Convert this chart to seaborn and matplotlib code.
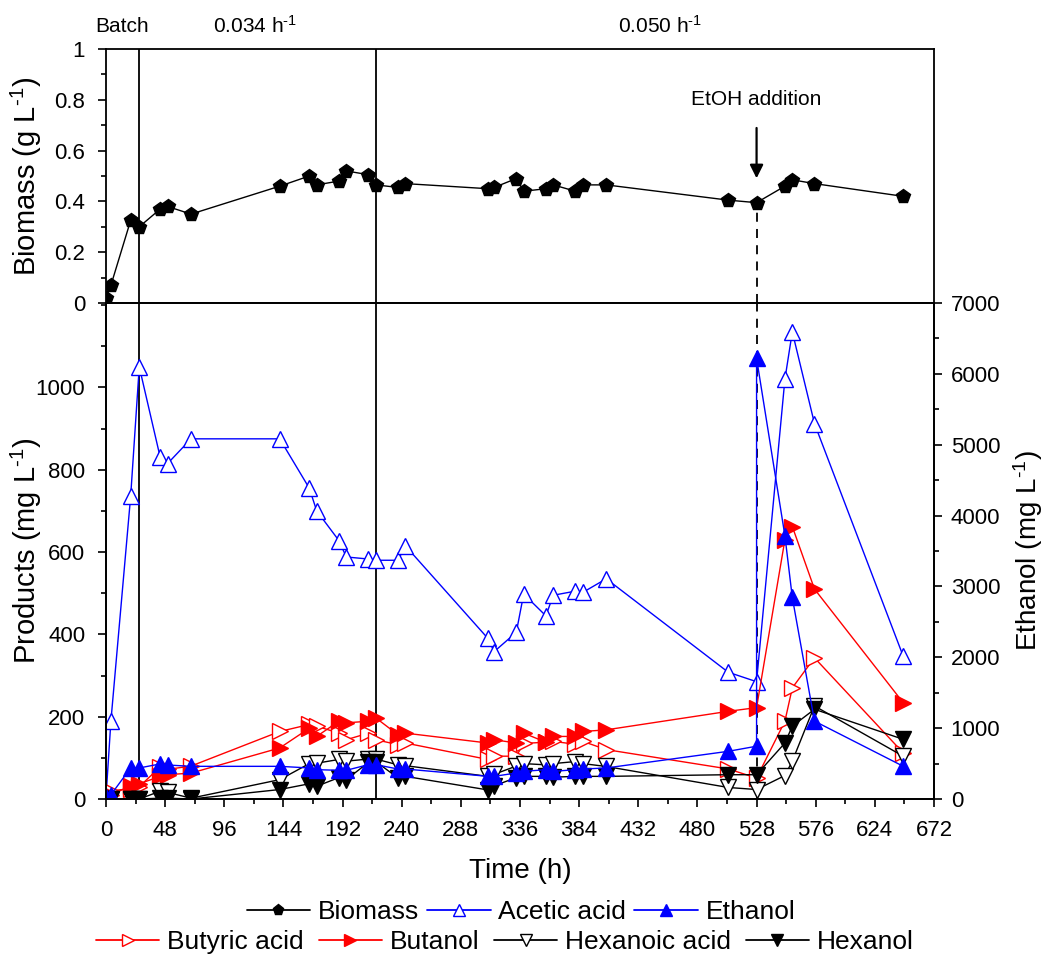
import matplotlib
matplotlib.use("Agg")
import matplotlib.pyplot as plt
import seaborn as sns
import matplotlib.transforms as mtransforms
from matplotlib.lines import Line2D
from matplotlib.ticker import MultipleLocator

# ---------------- data ----------------
time_h = [0, 4, 20, 27, 44, 50, 69, 141, 165, 171, 189, 195, 213, 219, 237, 243,
          310, 315, 333, 339, 357, 363, 381, 387, 406, 505, 528, 551, 557, 575, 647]
biomass = [0.02, 0.07, 0.325, 0.30, 0.37, 0.38, 0.35, 0.46, 0.50, 0.465, 0.48, 0.52,
           0.505, 0.465, 0.455, 0.47, 0.45, 0.455, 0.49, 0.44, 0.45, 0.465, 0.44, 0.465,
           0.465, 0.405, 0.395, 0.46, 0.485, 0.47, 0.42]
acetic = [5, 190, 735, 1050, 830, 815, 875, 875, 755, 700, 628, 588, 583, 580, 580, 615,
          390, 358, 405, 498, 445, 495, 505, 502, 535, 308, 285, 1020, 1135, 912, 347]
butyric = [15, 20, 25, 30, 78, 72, 80, 164, 181, 177, 160, 144, 160, 144, 132, 136,
           96, 104, 104, 135, 138, 140, 133, 140, 120, 73, 51, 189, 270, 343, 112]
butanol = [5, 10, 32, 37, 55, 59, 63, 124, 172, 152, 189, 185, 189, 197, 156, 160,
           136, 144, 136, 160, 138, 152, 152, 164, 168, 213, 222, 630, 662, 510, 234]
hexanoic = [0, 0, 0, 0, 19, 16, 2, 47, 86, 87, 96, 92, 97, 97, 83, 81,
            55, 60, 80, 86, 83, 86, 91, 86, 79, 28, 23, 57, 92, 226, 104]
hexanol = [0, 0, 0, 0, 2, 2, 0, 23, 37, 31, 52, 47, 89, 91, 51, 55,
           22, 32, 52, 55, 55, 53, 55, 55, 55, 59, 59, 136, 177, 218, 145]
# ethanol (right axis) - two samples at 528 h (before / after EtOH addition)
time_etoh = [0, 4, 20, 27, 44, 50, 69, 141, 165, 171, 189, 195, 213, 219, 237, 243,
             310, 315, 333, 339, 357, 363, 381, 387, 406, 505, 528, 528, 551, 557, 575, 647]
ethanol = [30, 60, 438, 438, 495, 480, 461, 461, 438, 414, 405, 405, 485, 485, 423, 423,
           320, 320, 367, 390, 414, 390, 414, 423, 438, 673, 745, 6220, 3715, 2844, 1099, 462]

phase_bounds = [27, 219]
etoh_time = 528
phase_labels = [r"Batch", r"0.034 h$^{\text{-}1}$", r"0.050 h$^{\text{-}1}$"]
phase_label_x = [13, 121, 450]

# ---------------- style ----------------
sns.set_theme(style="ticks")
plt.rcParams["font.family"] = ["Liberation Sans", "DejaVu Sans"]
plt.rcParams["mathtext.fontset"] = "custom"
plt.rcParams["mathtext.rm"] = "Liberation Sans"
plt.rcParams["mathtext.it"] = "Liberation Sans:italic"
plt.rcParams["mathtext.bf"] = "Liberation Sans:bold"
plt.rcParams["mathtext.default"] = "regular"
for k in ("text.color", "axes.labelcolor", "xtick.color", "ytick.color", "axes.edgecolor"):
    plt.rcParams[k] = "black"

BLUE = "#0000FF"
RED = "#FF0000"
BLACK = "#000000"

W, H = 1044, 956
fig = plt.figure(figsize=(W / 100, H / 100), dpi=100)
L, R, T, M, B = 106, 934, 49, 303, 799
ax_top = fig.add_axes([L / W, 1 - M / H, (R - L) / W, (M - T) / H])
ax_bot = fig.add_axes([L / W, 1 - B / H, (R - L) / W, (B - M) / H])
ax_eth = ax_bot.twinx()


def draw(ax, t, v, color, marker, filled, ms):
    sns.lineplot(x=t, y=v, ax=ax, color=color, marker=marker, markersize=ms,
                 markerfacecolor=color if filled else "white",
                 markeredgecolor=color, markeredgewidth=1.0, linewidth=1.0,
                 estimator=None, sort=False, legend=False)


# top panel
draw(ax_top, time_h, biomass, BLACK, "p", True, 10)

# bottom panel
draw(ax_bot, time_h, acetic, BLUE, "^", False, 11)
draw(ax_bot, time_h, butyric, RED, ">", False, 11)
draw(ax_bot, time_h, butanol, RED, ">", True, 11)
draw(ax_bot, time_h, hexanoic, BLACK, "v", False, 11)
draw(ax_bot, time_h, hexanol, BLACK, "v", True, 11)
draw(ax_eth, time_etoh, ethanol, BLUE, "^", True, 11)

# phase boundaries
for xb in phase_bounds:
    ax_top.axvline(xb, color="black", lw=1.3, zorder=0.5)
    ax_bot.axvline(xb, color="black", lw=1.3, zorder=0.5)
b528 = biomass[time_h.index(etoh_time)]
ax_top.vlines(etoh_time, 0, b528, colors="black", linestyles=(0, (5, 4)), lw=1.3, zorder=0.5)
ax_bot.axvline(etoh_time, color="black", ls=(0, (5, 4)), lw=1.3, zorder=0.5)

# limits / ticks
for ax in (ax_top, ax_bot, ax_eth):
    ax.set_xlim(0, 672)
ax_top.set_ylim(0, 1)
ax_bot.set_ylim(0, 1205)
ax_eth.set_ylim(0, 7000)

ax_bot.xaxis.set_major_locator(MultipleLocator(48))
ax_bot.xaxis.set_minor_locator(MultipleLocator(24))
ax_top.set_yticks([0, 0.2, 0.4, 0.6, 0.8, 1.0])
ax_top.set_yticklabels(["0", "0.2", "0.4", "0.6", "0.8", "1"])
ax_top.yaxis.set_minor_locator(MultipleLocator(0.1))
ax_bot.set_yticks([0, 200, 400, 600, 800, 1000])
ax_bot.yaxis.set_minor_locator(MultipleLocator(100))
ax_eth.set_yticks(range(0, 7001, 1000))
ax_eth.yaxis.set_minor_locator(MultipleLocator(500))

ax_top.tick_params(axis="x", which="both", bottom=False, labelbottom=False)
for ax in (ax_top, ax_bot, ax_eth):
    ax.tick_params(which="major", direction="out", length=6, width=1.2, labelsize=16,
                   colors="black", pad=9)
    ax.tick_params(which="minor", direction="out", length=3.5, width=1.2)
ax_eth.tick_params(axis="y", pad=6)

for ax in (ax_top, ax_bot, ax_eth):
    for s in ax.spines.values():
        s.set_visible(True)
        s.set_linewidth(1.3)
        s.set_color("black")

ax_top.set_xlabel("")
ax_top.set_ylabel(r"Biomass (g L$^{\text{-}1}$)", fontsize=21)
ax_bot.set_ylabel(r"Products (mg L$^{\text{-}1}$)", fontsize=21)
ax_eth.set_ylabel(r"Ethanol (mg L$^{\text{-}1}$)", fontsize=20)
ax_bot.set_xlabel("Time (h)", fontsize=20, labelpad=12)
ax_top.yaxis.set_label_coords((44 - L) / (R - L), 0.5)
ax_bot.yaxis.set_label_coords((44 - L) / (R - L), 0.5)
ax_eth.yaxis.set_label_coords((1011 - L) / (R - L), 0.5)

# phase labels above the plot
trans = mtransforms.blended_transform_factory(ax_top.transData, ax_top.transAxes)
for txt, xp in zip(phase_labels, phase_label_x):
    ax_top.text(xp, 1.09, txt, transform=trans, ha="center", va="center", fontsize=15)

# EtOH addition annotation
ax_top.annotate("", xy=(etoh_time, 0.48), xytext=(etoh_time, 0.70),
                arrowprops=dict(arrowstyle="-|>", color="black", lw=1.6, mutation_scale=20))
ax_top.text(etoh_time, 0.80, "EtOH addition", ha="center", va="center", fontsize=15)

# legend
def handle(color, marker, filled):
    return Line2D([], [], color=color, marker=marker, markersize=8, lw=1.3,
                  markerfacecolor=color if filled else "white", markeredgecolor=color,
                  markeredgewidth=1.0)

row1 = [handle(BLACK, "p", True), handle(BLUE, "^", False), handle(BLUE, "^", True)]
row1_lab = ["Biomass", "Acetic acid", "Ethanol"]
row2 = [handle(RED, ">", False), handle(RED, ">", True), handle(BLACK, "v", False),
        handle(BLACK, "v", True)]
row2_lab = ["Butyric acid", "Butanol", "Hexanoic acid", "Hexanol"]

leg_kw = dict(loc="center", frameon=False, fontsize=19, handlelength=2.4,
              handletextpad=0.3, borderpad=0, borderaxespad=0, labelcolor="black")
fig.legend(row1, row1_lab, ncol=3, columnspacing=0.3,
           bbox_to_anchor=(521 / W, 1 - 912 / H), **leg_kw)
fig.legend(row2, row2_lab, ncol=4, columnspacing=0.55,
           bbox_to_anchor=(505 / W, 1 - 942 / H), **leg_kw)

fig.savefig("out.png", dpi=100)
